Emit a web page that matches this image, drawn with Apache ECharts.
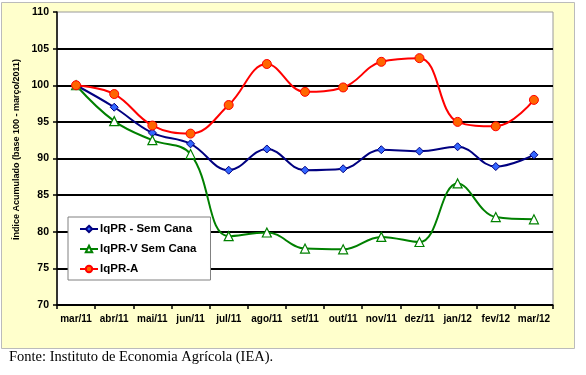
<!DOCTYPE html>
<html>
<head>
<meta charset="utf-8">
<script src="https://cdn.jsdelivr.net/npm/echarts@6/dist/echarts.min.js"></script>
<style>
  html, body { margin: 0; padding: 0; background: #fff; }
  #chart { width: 586px; height: 375px; }
</style>
</head>
<body>
<div id="chart"></div>
<script>
// meses, mar/11 a mar/12
var months = ['mar/11', 'abr/11', 'mai/11', 'jun/11', 'jul/11', 'ago/11', 'set/11',
  'out/11', 'nov/11', 'dez/11', 'jan/12', 'fev/12', 'mar/12'];
var iqprSemCana = [100, 97.0, 93.5, 92.0, 88.4, 91.3, 88.4, 88.6, 91.2, 91.0, 91.6, 88.9, 90.5];
var iqprVSemCana = [100, 95.1, 92.5, 90.6, 79.4, 79.9, 77.7, 77.6, 79.3, 78.6, 86.6, 82.0, 81.7];
var iqprA = [100, 98.8, 94.5, 93.4, 97.3, 102.9, 99.1, 99.7, 103.2, 103.7, 95.0, 94.4, 98.0];

var labelFont = {
  color: '#000',
  fontFamily: 'Liberation Sans',
  fontWeight: 'bold',
  fontSize: 10
};

var option = {
  animation: false,
  backgroundColor: '#fff',
  graphic: [
    {
      type: 'rect', z: -10,
      shape: {x: 1.5, y: 2.5, width: 573, height: 346},
      style: {fill: '#FFFFCC', stroke: '#BBBBBB', lineWidth: 1}
    },
    {
      type: 'text', left: 9, top: 350,
      style: {
        text: 'Fonte: Instituto de Economia Agrícola (IEA).',
        fill: '#000',
        font: '14.5px "Liberation Serif"'
      }
    }
  ],
  grid: {
    left: 57, right: 33, top: 12, bottom: 70,
    show: true,
    backgroundColor: '#fff',
    borderColor: '#9a9a9a',
    borderWidth: 1
  },
  legend: {
    orient: 'vertical',
    left: 68, top: 217,
    width: 139,
    padding: [6, 14, 5, 11],
    itemGap: 8,
    itemWidth: 18,
    itemHeight: 8,
    backgroundColor: '#fff',
    borderColor: '#808080',
    borderWidth: 1,
    textStyle: {
      color: '#000',
      fontFamily: 'Liberation Sans',
      fontWeight: 'bold',
      fontSize: 11.5,
      padding: [0, 0, 0, -3]
    },
    data: ['IqPR - Sem Cana', 'IqPR-V Sem Cana', 'IqPR-A']
  },
  xAxis: {
    type: 'category',
    data: months,
    boundaryGap: true,
    axisLine: {lineStyle: {color: '#000', width: 1.5}},
    axisTick: {show: true, length: 4, lineStyle: {color: '#000', width: 1.5}},
    axisLabel: Object.assign({margin: 9, interval: 0}, labelFont),
    splitLine: {show: false}
  },
  yAxis: {
    type: 'value',
    min: 70, max: 110, interval: 5,
    name: 'Índice Acumulado (base 100 - março/2011)',
    nameLocation: 'middle',
    nameGap: 21,
    nameTextStyle: {
      color: '#000',
      fontFamily: 'Liberation Sans',
      fontWeight: 'bold',
      fontSize: 9,
      padding: [0, 0, 0, 18]
    },
    axisLine: {show: true, lineStyle: {color: '#000', width: 1.5}},
    axisTick: {show: true, length: 4, lineStyle: {color: '#000', width: 1.5}},
    axisLabel: Object.assign({margin: 8}, labelFont, {fontSize: 10.5}),
    splitLine: {
      show: true,
      lineStyle: {
        color: ['#000', '#000', '#000', '#000', '#000', '#000', '#000', '#000', 'transparent'],
        width: 2
      }
    }
  },
  series: [
    {
      name: 'IqPR - Sem Cana',
      type: 'line',
      smooth: 0.4,
      data: iqprSemCana,
      symbol: 'diamond',
      symbolSize: 8,
      lineStyle: {color: '#000080', width: 2},
      itemStyle: {color: '#3366FF', borderColor: '#000080', borderWidth: 1}
    },
    {
      name: 'IqPR-V Sem Cana',
      type: 'line',
      smooth: 0.4,
      data: iqprVSemCana,
      symbol: 'triangle',
      symbolSize: 9,
      lineStyle: {color: '#008000', width: 2},
      itemStyle: {color: '#fff', borderColor: '#008000', borderWidth: 1.2}
    },
    {
      name: 'IqPR-A',
      type: 'line',
      smooth: 0.4,
      data: iqprA,
      symbol: 'circle',
      symbolSize: 9,
      lineStyle: {color: '#FF0000', width: 2},
      itemStyle: {color: '#FF6600', borderColor: '#FF0000', borderWidth: 1}
    }
  ]
};

var myChart = echarts.init(document.getElementById('chart'));
myChart.setOption(option);
</script>
</body>
</html>
